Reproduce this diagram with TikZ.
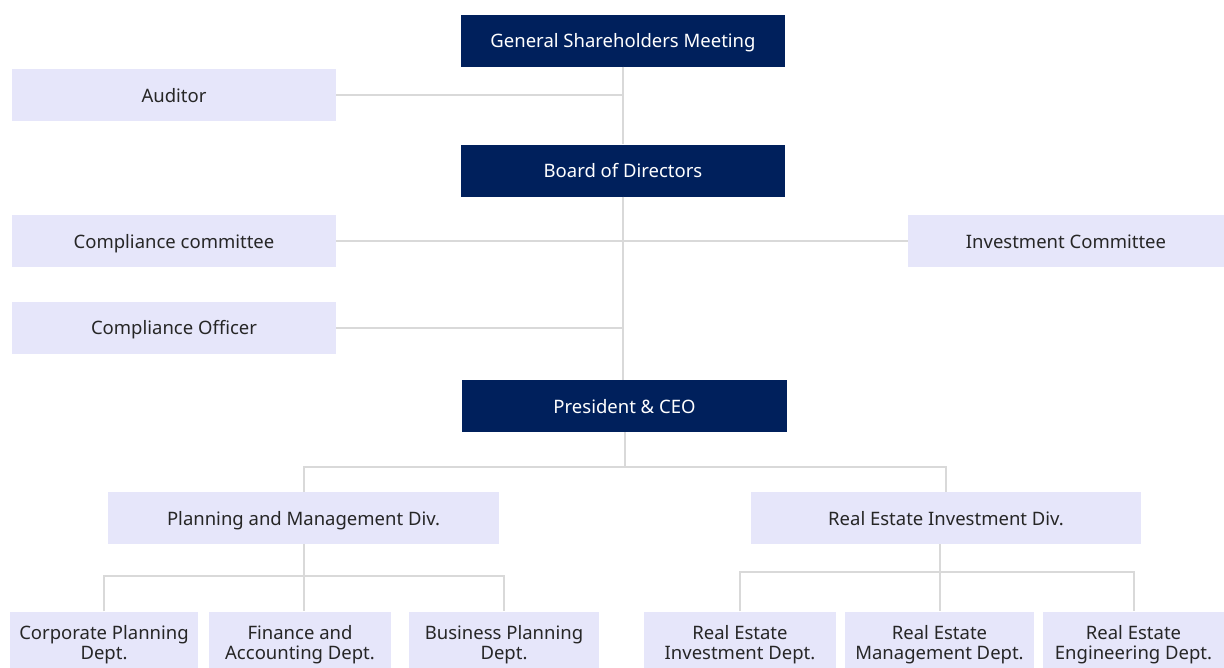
\documentclass[tikz,border=0pt]{standalone}
\usepackage{fontspec}
\setmainfont{Noto Sans}
\usetikzlibrary{positioning}
\definecolor{navy}{HTML}{00205C}
\definecolor{lav}{HTML}{E6E6FA}
\definecolor{wire}{HTML}{D9D9D9}
\tikzset{
  exec/.style={fill=navy,text=white,minimum width=324pt,minimum height=52pt,inner sep=0pt,text height=14pt,text depth=0pt,font=\fontsize{18.5}{22}\selectfont},
  unit/.style={fill=lav,text=black!85,minimum height=52pt,inner sep=0pt,text height=14pt,text depth=0pt,font=\fontsize{18.5}{22}\selectfont},
  dept/.style={fill=lav,text=black!85,minimum height=66pt,inner sep=0pt,align=center,font=\fontsize{18.5}{20}\selectfont},
  link/.style={draw=wire,line width=2pt}
}
\begin{document}
\begin{tikzpicture}[x=1pt,y=-1pt]
\clip (0,0) rectangle (1224,667);
\fill[white] (0,0) rectangle (1224,667);
% top of the chart
\node[exec] (gsm) at (623,40.5) {General Shareholders Meeting};
\node[exec] (board) at (623,170.5) {Board of Directors};
\node[exec,minimum width=325pt] (ceo) at (624.5,406) {President \& CEO};
\node[unit,minimum width=324pt] (auditor) at (174,95) {Auditor};
\node[unit,minimum width=324pt] (ccom) at (174,241) {Compliance committee};
\node[unit,minimum width=316pt] (icom) at (1066,241) {Investment Committee};
\node[unit,minimum width=324pt] (coff) at (174,327.5) {Compliance Officer};
% divisions
\node[unit,minimum width=391pt] (pmd) at (303.5,518) {Planning and Management Div.};
\node[unit,minimum width=390pt] (red) at (946,518) {Real Estate Investment Div.};
% departments
\node[dept,minimum width=188pt] (cpd) at (104,644.5) {Corporate Planning\\Dept.};
\node[dept,minimum width=182pt] (fad) at (300,644.5) {Finance and\\Accounting Dept.};
\node[dept,minimum width=190pt] (bpd) at (504,644.5) {Business Planning\\Dept.};
\node[dept,minimum width=192pt] (rid) at (740,644.5) {Real Estate\\Investment Dept.};
\node[dept,minimum width=189pt] (rmd) at (939.5,644.5) {Real Estate\\Management Dept.};
\node[dept,minimum width=181pt] (rgd) at (1133.5,644.5) {Real Estate\\Engineering Dept.};

\draw[link] (gsm.south) -- (board.north);
\draw[link] (board.south) -- (ceo.north -| board.south);
\draw[link] (auditor.east) -- (auditor.east -| gsm.south);
\draw[link] (ccom.east) -- (icom.west);
\draw[link] (coff.east) -- (coff.east -| board.south);
\draw[link] (ceo.south) -- ++(0,35) coordinate (fork) (pmd.north) |- (fork) -| (red.north);
\draw[link] (cpd.north) -- ++(0,-35) -| (bpd.north);
\draw[link] (pmd.south) -- (pmd.south |- cpd.north);
\draw[link] (rid.north) -- ++(0,-39) -| (rgd.north);
\draw[link] (red.south -| rmd.north) -- (rmd.north);
\end{tikzpicture}
\end{document}
